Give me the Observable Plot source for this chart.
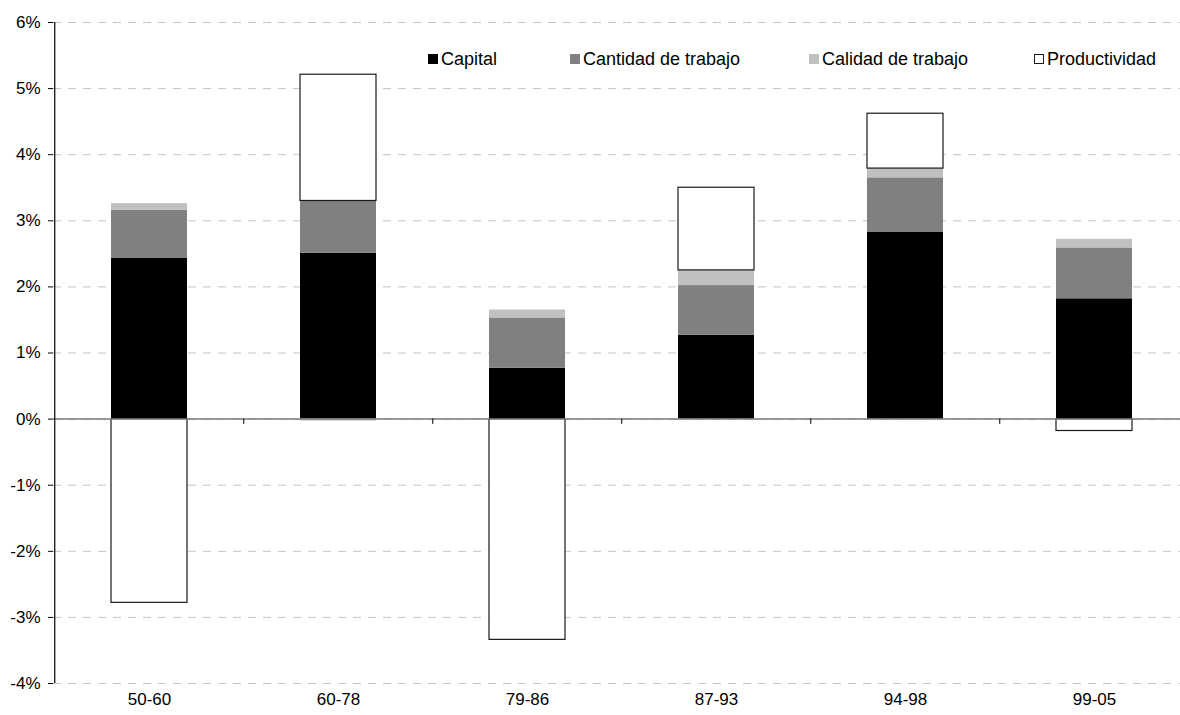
<!DOCTYPE html>
<html><head><meta charset="utf-8">
<script src="https://cdn.jsdelivr.net/npm/d3@7"></script>
<script src="https://cdn.jsdelivr.net/npm/@observablehq/plot@0.6"></script>
<style>
body{margin:0;background:#fff;overflow:hidden}
#wrap{position:relative;width:1180px;height:715px;overflow:hidden;font-family:"Liberation Sans",Arial,sans-serif}
#chart{position:absolute;left:0;top:0}
#legend{position:absolute;top:49px;left:0;width:1180px;height:20px}
.item{position:absolute;top:0;height:20px;display:flex;align-items:center;font-size:18px;color:#000;white-space:nowrap}
.sw{width:10px;height:10px;margin-right:3px;box-sizing:border-box}
</style></head><body><div id="wrap"><div id="chart"></div><div id="legend"></div></div>
<script>
const periods = ["50-60","60-78","79-86","87-93","94-98","99-05"];
const series = ["Capital","Cantidad de trabajo","Calidad de trabajo","Productividad"];
const capital = [2.43, 2.51, 0.77, 1.27, 2.83, 1.82];
const cantidad = [0.73, 0.79, 0.76, 0.75, 0.82, 0.77];
const calidad = [0.10, -0.03, 0.12, 0.23, 0.14, 0.13];
const productividad = [-2.78, 1.91, -3.34, 1.25, 0.83, -0.18];
const yTicks = [-4, -3, -2, -1, 0, 1, 2, 3, 4, 5, 6];
const fills = ["#000000", "#808080", "#c0c0c0", "#ffffff"];
const strokes = ["none", "none", "none", "#1a1a1a"];
const legendLeft = [428, 570, 809, 1034];

const values = [capital, cantidad, calidad, productividad];
const rows = [];
series.forEach((s, si) => periods.forEach((p, pi) => rows.push({period: p, serie: s, si, value: values[si][pi]})));

const W = 1190, H = 715, mL = 53, mR = 0, mT = 22, mB = 32;
const step = (W - mL - mR) / periods.length;

const chart = Plot.plot({
  width: W, height: H,
  marginLeft: mL, marginRight: mR, marginTop: mT, marginBottom: mB,
  style: {fontFamily: '"Liberation Sans", Arial, sans-serif', fontSize: "17px", color: "#000", background: "#fff", maxWidth: "none", overflow: "visible"},
  x: {domain: periods, paddingInner: 0.6, paddingOuter: 0.3, label: null},
  y: {domain: [-4, 6], label: null},
  color: {type: "identity"},
  marks: [
    Plot.gridY(yTicks, {stroke: "#c4c4c4", strokeOpacity: 1, strokeDasharray: "8,7"}),
    Plot.barY(rows, {x: "period", y: "value", fill: d => fills[d.si], stroke: d => strokes[d.si], strokeWidth: 1.2}),
    Plot.ruleY([0], {stroke: "#7a7a7a", strokeWidth: 1.5}),
    Plot.ruleX(periods.slice(1), {x: d => d, y1: 0, y2: -0.08, dx: -step / 2, stroke: "#000"}),
    Plot.ruleX([periods[0]], {x: d => d, y1: -4, y2: 6, dx: -step / 2, stroke: "#000", strokeWidth: 1.2}),
    Plot.axisY(yTicks, {tickSize: 5, tickPadding: 8, tickFormat: d => d + "%", stroke: "#000"}),
    Plot.axisX({tickSize: 0, tickPadding: 9})
  ]
});
document.getElementById("chart").appendChild(chart);

const legend = document.getElementById("legend");
series.forEach((s, i) => {
  const it = document.createElement("div");
  it.className = "item";
  it.style.left = legendLeft[i] + "px";
  const sw = document.createElement("span");
  sw.className = "sw";
  sw.style.background = fills[i];
  sw.style.border = strokes[i] === "none" ? "none" : "1px solid " + strokes[i];
  const tx = document.createElement("span");
  tx.textContent = s;
  it.appendChild(sw); it.appendChild(tx);
  legend.appendChild(it);
});
</script></body></html>
